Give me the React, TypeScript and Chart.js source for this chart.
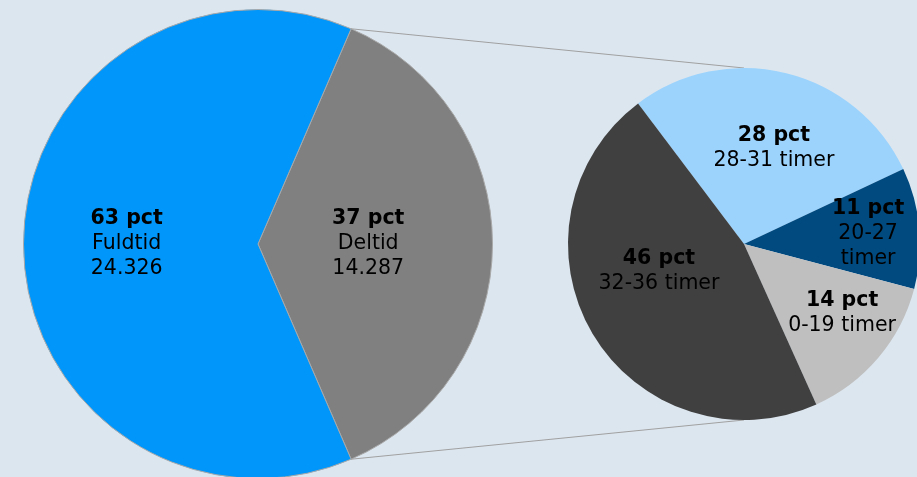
import React, { useEffect, useRef } from "react";
import { Chart, registerables } from "chart.js";

Chart.register(...registerables);

// ---- data ----
const mainCategories = ["Deltid", "Fuldtid"];
const mainCounts = [14287, 24326];
const mainPercents = [37, 63];
const mainColors = ["#808080", "#0096FA"];

const subCategories = ["28-31 timer", "20-27 timer", "0-19 timer", "32-36 timer"];
const subPercents = [28, 11, 14, 46];
const subColors = ["#9BD3FD", "#004A80", "#BFBFBF", "#404040"];

// ---- layout/style constants ----
const BG = "#DCE6EF";
const FONT = "'DejaVu Sans', sans-serif";
const FONT_SIZE = 20.5;
const LINE_H = 25;
// label block centre offsets in units of the pie radius
const mainLabelPos = [
  { dx: 0.47, dy: -0.01, maxW: 200 },
  { dx: -0.56, dy: -0.01, maxW: 200 },
];
const subLabelPos = [
  { dx: 0.17, dy: -0.554, maxW: 200 },
  { dx: 0.705, dy: -0.071, maxW: 70 },
  { dx: 0.557, dy: 0.384, maxW: 200 },
  { dx: -0.483, dy: 0.142, maxW: 200 },
];

const fmtDK = (n: number) => String(n).replace(/\B(?=(\d{3})+(?!\d))/g, ".");

function wrap(ctx: CanvasRenderingContext2D, text: string, maxW: number): string[] {
  if (ctx.measureText(text).width <= maxW) return [text];
  const words = text.split(" ");
  const lines: string[] = [];
  let cur = "";
  for (const w of words) {
    const t = cur ? cur + " " + w : w;
    if (cur && ctx.measureText(t).width > maxW) {
      lines.push(cur);
      cur = w;
    } else cur = t;
  }
  if (cur) lines.push(cur);
  return lines;
}

function makeLabelPlugin(getLines: (i: number, ctx: CanvasRenderingContext2D) => string[][], pos: { dx: number; dy: number; maxW: number }[]) {
  return {
    id: "sliceLabels",
    afterDatasetsDraw(chart: any) {
      const ctx: CanvasRenderingContext2D = chart.ctx;
      const meta = chart.getDatasetMeta(0);
      meta.data.forEach((arc: any, i: number) => {
        const { x, y, outerRadius } = arc.getProps(["x", "y", "outerRadius"], true);
        const cx = x + pos[i].dx * outerRadius;
        const cy = y + pos[i].dy * outerRadius;
        ctx.save();
        ctx.fillStyle = "#000";
        ctx.textAlign = "center";
        ctx.textBaseline = "alphabetic";
        const parts = getLines(i, ctx);
        const all: { t: string; bold: boolean }[] = [];
        parts.forEach((p, k) => p.forEach((t) => all.push({ t, bold: k === 0 })));
        const n = all.length;
        all.forEach((l, k) => {
          ctx.font = `${l.bold ? "bold " : ""}${FONT_SIZE}px ${FONT}`;
          const by = cy + (k - (n - 1) / 2) * LINE_H + 7.3;
          ctx.fillText(l.t, cx, by);
        });
        ctx.restore();
      });
    },
  };
}

export default function App() {
  const bigRef = useRef<HTMLCanvasElement>(null);
  const smallRef = useRef<HTMLCanvasElement>(null);

  useEffect(() => {
    const total = mainCounts.reduce((a, b) => a + b, 0);
    const share = mainCounts[0] / total;

    const big = new Chart(bigRef.current!, {
      type: "pie",
      data: {
        labels: mainCategories,
        datasets: [
          {
            data: mainCounts,
            backgroundColor: mainColors,
            borderColor: "#A8A8A8",
            borderWidth: 1,
            hoverOffset: 0,
          },
        ],
      },
      options: {
        responsive: false,
        animation: false,
        events: [],
        rotation: 90 - share * 180,
        layout: { padding: { left: 23, top: 9, right: 424, bottom: 11 } },
        plugins: { legend: { display: false }, tooltip: { enabled: false } },
      },
      plugins: [
        makeLabelPlugin(
          (i) => [[`${mainPercents[i]} pct`], [mainCategories[i], fmtDK(mainCounts[i])]],
          mainLabelPos
        ),
      ],
    });

    const connector = {
      id: "connector",
      beforeDatasetsDraw(chart: any) {
        const ctx: CanvasRenderingContext2D = chart.ctx;
        const bArc: any = big.getDatasetMeta(0).data[0];
        const bp = bArc.getProps(["x", "y", "startAngle", "endAngle", "outerRadius"], true);
        const sArc: any = chart.getDatasetMeta(0).data[0];
        const sp = sArc.getProps(["x", "y", "outerRadius"], true);
        const p1 = { x: bp.x + bp.outerRadius * Math.cos(bp.startAngle), y: bp.y + bp.outerRadius * Math.sin(bp.startAngle) };
        const p2 = { x: bp.x + bp.outerRadius * Math.cos(bp.endAngle), y: bp.y + bp.outerRadius * Math.sin(bp.endAngle) };
        ctx.save();
        ctx.strokeStyle = "#A0A0A0";
        ctx.lineWidth = 1;
        ctx.beginPath();
        ctx.moveTo(p1.x, p1.y);
        ctx.lineTo(sp.x, sp.y - sp.outerRadius);
        ctx.moveTo(p2.x, p2.y);
        ctx.lineTo(sp.x, sp.y + sp.outerRadius);
        ctx.stroke();
        ctx.restore();
      },
    };

    const small = new Chart(smallRef.current!, {
      type: "pie",
      data: {
        labels: subCategories,
        datasets: [
          {
            data: subPercents,
            backgroundColor: subColors,
            borderWidth: 0,
            hoverOffset: 0,
          },
        ],
      },
      options: {
        responsive: false,
        animation: false,
        events: [],
        rotation: -37,
        layout: { padding: { left: 568, top: 68, right: 10, bottom: 70 } },
        plugins: { legend: { display: false }, tooltip: { enabled: false } },
      },
      plugins: [
        connector,
        makeLabelPlugin((i, ctx) => {
          ctx.font = `${FONT_SIZE}px ${FONT}`;
          return [[`${subPercents[i]} pct`], wrap(ctx, subCategories[i], subLabelPos[i].maxW)];
        }, subLabelPos),
      ],
    });

    return () => {
      small.destroy();
      big.destroy();
    };
  }, []);

  return (
    <div style={{ position: "fixed", left: 0, top: 0, width: 917, height: 477, overflow: "hidden", background: BG }}>
      <canvas
        ref={bigRef}
        width={917}
        height={490}
        style={{ position: "absolute", left: 0, top: 0, width: 917, height: 490 }}
      />
      <canvas
        ref={smallRef}
        width={930}
        height={490}
        style={{ position: "absolute", left: 0, top: 0, width: 930, height: 490 }}
      />
    </div>
  );
}
